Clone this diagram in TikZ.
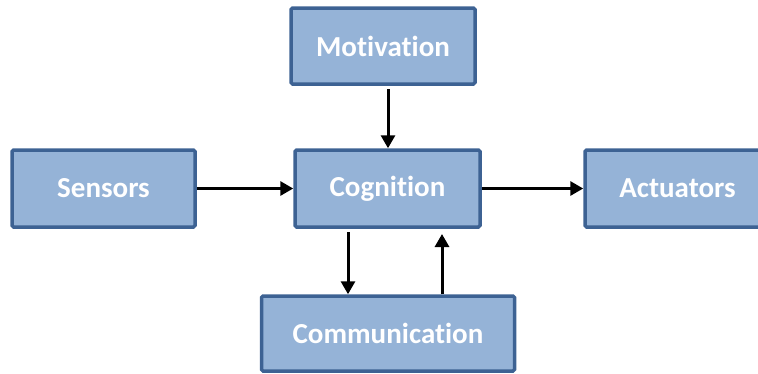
\documentclass[tikz,border=0pt]{standalone}
\usepackage{fontspec}
\setmainfont[Ligatures=NoCommon]{Carlito}
\usetikzlibrary{arrows.meta}
\definecolor{boxfill}{HTML}{95B3D7}
\definecolor{boxline}{HTML}{3D6293}
\begin{document}
\begin{tikzpicture}[x=1pt,y=-1pt,
  block/.style={draw=boxline,fill=boxfill,line width=3.5pt,rounded corners=1.5pt,
    text=white,font=\fontsize{29}{32}\selectfont\bfseries},
  link/.style={line width=3pt,-{Triangle[length=13pt,width=14pt]}}]
\useasboundingbox (0,0) rectangle (758,373);
\node[block,minimum width=184pt,minimum height=76pt] (mot) at (383,46) {Motivation};
\node[block,minimum width=183pt,minimum height=77pt] (sen) at (103.5,188.5) {Sensors};
\node[block,minimum width=185pt,minimum height=77pt] (cog) at (387.5,188.5) {Cognition};
\node[block,minimum width=185pt,minimum height=77pt] (act) at (677.5,188.5) {Actuators};
\node[block,minimum width=253pt,minimum height=75pt] (com) at (388,333.5) {Communication};
\draw[link] (388,89) -- (cog.north -| 388,0);
\draw[link] (sen.east) -- (cog.west);
\draw[link] (cog.east) -- (act.west);
\draw[link] (348,232) -- (com.north -| 348,0);
\draw[link] (com.north -| 442,0) -- (442,234);
\end{tikzpicture}
\end{document}
